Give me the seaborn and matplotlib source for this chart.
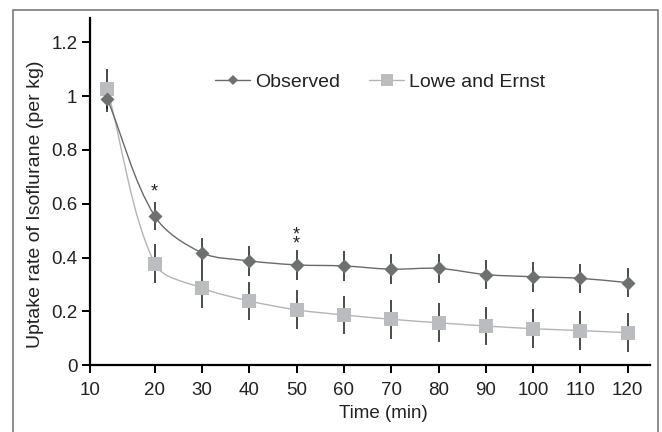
import numpy as np
import matplotlib
matplotlib.use("Agg")
import matplotlib.pyplot as plt
from matplotlib.path import Path
from matplotlib.patches import PathPatch, Rectangle
from matplotlib.lines import Line2D
import seaborn as sns

# data
time_min = [10, 20, 30, 40, 50, 60, 70, 80, 90, 100, 110, 120]
observed = [0.99, 0.555, 0.418, 0.388, 0.373, 0.369, 0.357, 0.360, 0.337, 0.329, 0.323, 0.307]
observed_err = [0.05, 0.052, 0.055, 0.055, 0.055, 0.055, 0.055, 0.055, 0.055, 0.055, 0.055, 0.055]
lowe_ernst = [1.026, 0.378, 0.287, 0.239, 0.206, 0.187, 0.171, 0.158, 0.146, 0.136, 0.129, 0.121]
lowe_err = [0.075, 0.072, 0.073, 0.072, 0.072, 0.072, 0.072, 0.072, 0.072, 0.072, 0.072, 0.072]
x_tick_labels = ["10", "20", "30", "40", "50", "60", "70", "80", "90", "100", "110", "120"]
y_ticks = [0, 0.2, 0.4, 0.6, 0.8, 1.0, 1.2]
y_tick_labels = ["0", "0.2", "0.4", "0.6", "0.8", "1", "1.2"]
star_times = [20, 50]
star_values = [0.643, 0.468]
star_labels = ["*", "*\n*"]

OBS_COLOR = "#6e6f71"
OBS_LINE = "#6a6a6a"
LOWE_COLOR = "#bbbcbf"
LOWE_LINE = "#b4b4b4"


def smooth_path(ax, xs, ys):
    # smoothed line like excel, built in pixel space (chord-weighted catmull-rom)
    pts = ax.transData.transform(np.column_stack([xs, ys]))
    n = len(pts)
    tang = []
    for i in range(n):
        p0 = pts[max(i - 1, 0)]
        p2 = pts[min(i + 1, n - 1)]
        d0 = np.linalg.norm(pts[i] - p0)
        d1 = np.linalg.norm(p2 - pts[i])
        tang.append((p2 - p0) / (d0 + d1))
    verts = [pts[0]]
    codes = [Path.MOVETO]
    for i in range(n - 1):
        d = np.linalg.norm(pts[i + 1] - pts[i])
        verts += [pts[i] + tang[i] * d / 3, pts[i + 1] - tang[i + 1] * d / 3, pts[i + 1]]
        codes += [Path.CURVE4] * 3
    verts = ax.transData.inverted().transform(np.array(verts))
    return Path(verts, codes)


sns.set_style("ticks")
plt.rcParams['font.family'] = ['Liberation Sans', 'DejaVu Sans']

fig = plt.figure(figsize=(6.62, 4.32), dpi=100)
ax = fig.add_axes([90 / 662, 1 - 365.3 / 432, 560 / 662, 347.3 / 432])
ax.set_xlim(6.34, 124.7)
ax.set_ylim(0, 1.29)

# error bars
ax.errorbar(time_min, observed, yerr=observed_err, fmt="none", ecolor="#1a1a1a",
            elinewidth=1.1, capsize=0, zorder=2)
ax.errorbar(time_min, lowe_ernst, yerr=lowe_err, fmt="none", ecolor="#1a1a1a",
            elinewidth=1.1, capsize=0, zorder=2)

# smoothed lines
ax.add_patch(PathPatch(smooth_path(ax, time_min, lowe_ernst), fill=False,
                       edgecolor=LOWE_LINE, lw=1.0, zorder=3))
ax.add_patch(PathPatch(smooth_path(ax, time_min, observed), fill=False,
                       edgecolor=OBS_LINE, lw=1.0, zorder=3))

# markers
sns.scatterplot(x=time_min, y=lowe_ernst, marker="s", s=88, color=LOWE_COLOR,
                linewidth=0, zorder=4, ax=ax)
sns.scatterplot(x=time_min, y=observed, marker="D", s=51, color=OBS_COLOR,
                linewidth=0, zorder=5, ax=ax)

for t, v, lab in zip(star_times, star_values, star_labels):
    ax.text(t, v, lab, ha="center", va="center", fontsize=13, color="#222222",
            linespacing=0.4)

ax.set_xticks([6.34] + time_min[1:])
ax.set_xticklabels(x_tick_labels)
ax.set_yticks(y_ticks)
ax.set_yticklabels(y_tick_labels)
ax.tick_params(axis="both", labelsize=13.5, length=6, width=1.4, color="black",
               labelcolor="#222222")
ax.tick_params(axis="x", pad=6)
ax.tick_params(axis="y", pad=3)
for side in ["top", "right"]:
    ax.spines[side].set_visible(False)
for side in ["left", "bottom"]:
    ax.spines[side].set_linewidth(1.6)
    ax.spines[side].set_color("black")

ax.set_xlabel("Time (min)", fontsize=13.5, color="#222222")
ax.set_ylabel("Uptake rate of Isoflurane (per kg)", fontsize=14, color="#222222")
ax.xaxis.set_label_coords(0.523, -0.115)
ax.yaxis.set_label_coords(-0.083, 0.4645)

handles = [
    Line2D([], [], color=OBS_LINE, lw=1.0, marker="D", markersize=5.5,
           markerfacecolor=OBS_COLOR, markeredgewidth=0),
    Line2D([], [], color=LOWE_LINE, lw=1.0, marker="s", markersize=8.4,
           markerfacecolor=LOWE_COLOR, markeredgewidth=0),
]
fig.legend(handles, ["Observed", "Lowe and Ernst"], ncol=2, frameon=False,
           loc="center left", bbox_to_anchor=(215 / 662, 1 - 82 / 432),
           borderpad=0, borderaxespad=0, handlelength=1.8, handletextpad=0.25,
           columnspacing=1.5, fontsize=14, labelcolor="#222222")

# outer frame around the figure
fig.patches.append(Rectangle((12.7 / 662, -0.02), (658 - 12.7) / 662, 1.02 - 10 / 432,
                             transform=fig.transFigure, fill=False,
                             edgecolor="#7a7a7a", lw=1.2))

fig.savefig("out.png", dpi=100)
